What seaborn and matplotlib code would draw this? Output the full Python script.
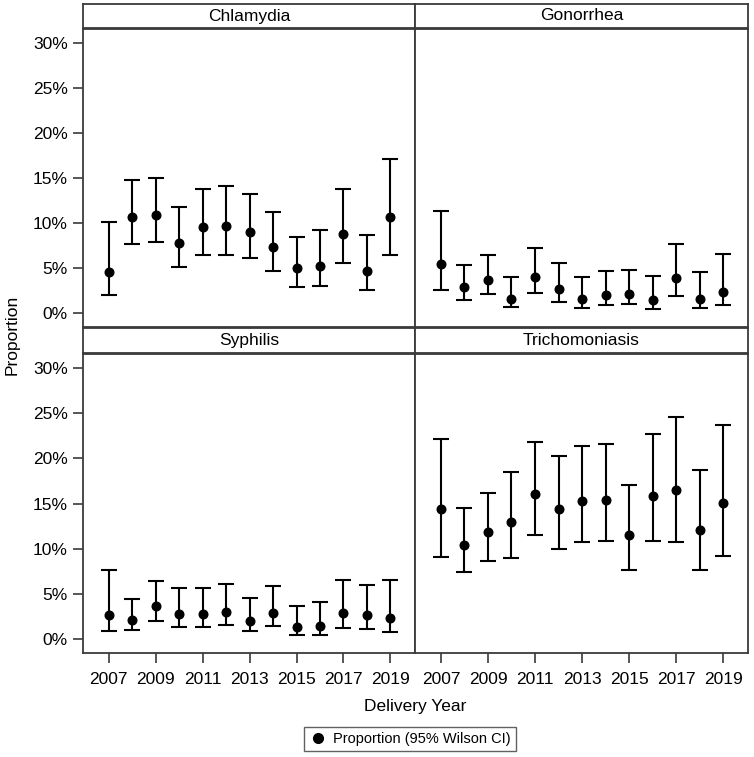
import numpy as np
import pandas as pd
import matplotlib
matplotlib.use("Agg")
import matplotlib.pyplot as plt
from matplotlib.lines import Line2D
import seaborn as sns

# Values (percent)
years = list(range(2007, 2020))
diseases = ["Chlamydia", "Gonorrhea", "Syphilis", "Trichomoniasis"]

chlamydia_p = [4.56, 10.72, 10.94, 7.81, 9.54, 9.65, 9.06, 7.32, 5.00, 5.26, 8.79, 4.71, 10.72]
chlamydia_lo = [2.05, 7.66, 7.96, 5.15, 6.51, 6.51, 6.18, 4.75, 2.94, 3.02, 5.55, 2.58, 6.51]
chlamydia_hi = [10.16, 14.80, 15.00, 11.80, 13.78, 14.15, 13.22, 11.30, 8.46, 9.24, 13.85, 8.69, 17.13]

gonorrhea_p = [5.48, 2.90, 3.71, 1.61, 4.08, 2.68, 1.61, 2.09, 2.13, 1.50, 3.93, 1.65, 2.35]
gonorrhea_lo = [2.57, 1.50, 2.12, 0.70, 2.23, 1.31, 0.65, 0.98, 1.02, 0.55, 1.98, 0.60, 0.92]
gonorrhea_hi = [11.35, 5.41, 6.44, 4.01, 7.22, 5.63, 4.01, 4.67, 4.78, 4.19, 7.73, 4.56, 6.58]

syphilis_p = [2.73, 2.10, 3.65, 2.84, 2.84, 3.06, 2.03, 2.95, 1.37, 1.48, 2.88, 2.66, 2.40]
syphilis_lo = [0.92, 1.00, 2.07, 1.40, 1.40, 1.55, 0.89, 1.48, 0.48, 0.52, 1.29, 1.18, 0.85]
syphilis_hi = [7.71, 4.50, 6.46, 5.68, 5.68, 6.16, 4.61, 5.90, 3.73, 4.13, 6.57, 6.05, 6.60]

trich_p = [14.43, 10.44, 11.88, 13.03, 16.05, 14.39, 15.35, 15.42, 11.51, 15.87, 16.53, 12.14, 15.06]
trich_lo = [9.08, 7.42, 8.67, 9.00, 11.55, 9.96, 10.81, 10.85, 7.64, 10.85, 10.74, 7.64, 9.19]
trich_hi = [22.20, 14.54, 16.24, 18.52, 21.84, 20.33, 21.40, 21.55, 17.08, 22.69, 24.54, 18.78, 23.73]

y_ticks = [0, 5, 10, 15, 20, 25, 30]
x_ticks = [2007, 2009, 2011, 2013, 2015, 2017, 2019]

series = {
    "Chlamydia": (chlamydia_p, chlamydia_lo, chlamydia_hi),
    "Gonorrhea": (gonorrhea_p, gonorrhea_lo, gonorrhea_hi),
    "Syphilis": (syphilis_p, syphilis_lo, syphilis_hi),
    "Trichomoniasis": (trich_p, trich_lo, trich_hi),
}
frames = []
for name in diseases:
    p, lo, hi = series[name]
    frames.append(pd.DataFrame({"disease": name, "year": years, "prop": p, "lower": lo, "upper": hi}))
df = pd.concat(frames, ignore_index=True)

sns.set_style("white")
plt.rcParams["font.family"] = ["Liberation Sans", "DejaVu Sans"]
plt.rcParams["font.size"] = 12
plt.rcParams["text.color"] = "black"
plt.rcParams["axes.labelcolor"] = "black"
plt.rcParams["xtick.labelcolor"] = "black"
plt.rcParams["ytick.labelcolor"] = "black"

EDGE = "#3a3a3a"


def draw_ci(data, **kws):
    ax = plt.gca()
    ax.errorbar(data["year"], data["prop"],
                yerr=[data["prop"] - data["lower"], data["upper"] - data["prop"]],
                fmt="o", color="black", ms=6.2, capsize=5.5,
                elinewidth=1.5, capthick=1.5)


g = sns.FacetGrid(df, col="disease", col_wrap=2, col_order=diseases,
                  sharex=True, sharey=True, height=3.5, aspect=1)
g.map_dataframe(draw_ci)
fig = g.figure
fig.set_size_inches(7.54, 7.57)
fig.set_dpi(100)
g.set_titles("")
g.set_axis_labels("", "")

W, H = 754.0, 757.0
left, mid, right = 83 / W, 415 / W, 748 / W
rows = [(29, 327, 4, 28), (354, 653, 328, 353)]  # plot top/bottom, header top/bottom (px)

axes = g.axes.flatten()
for i, ax in enumerate(axes):
    r, c = divmod(i, 2)
    top_px, bot_px, htop, hbot = rows[r]
    x0 = left if c == 0 else mid
    x1 = mid if c == 0 else right
    ax.set_position([x0, 1 - bot_px / H, x1 - x0, (bot_px - top_px) / H])
    ax.set_xlim(2005.9, 2020.05)
    ax.set_ylim(-1.5, 31.55)
    ax.set_yticks(y_ticks)
    ax.set_yticklabels([f"{v}%" for v in y_ticks])
    ax.set_xticks(x_ticks)
    ax.set_xticklabels([str(v) for v in x_ticks])
    for sp in ax.spines.values():
        sp.set_visible(True)
        sp.set_color(EDGE)
        sp.set_linewidth(1.3)
    ax.tick_params(axis="both", direction="out", length=7, width=1.2,
                   color=EDGE, labelcolor="black", labelsize=12.5, pad=4)
    ax.tick_params(axis="x", pad=7)
    ax.tick_params(left=(c == 0), labelleft=(c == 0),
                   bottom=(r == 1), labelbottom=(r == 1))

    # strip header
    hax = fig.add_axes([x0, 1 - hbot / H, x1 - x0, (hbot - htop) / H])
    hax.set_xticks([])
    hax.set_yticks([])
    hax.set_facecolor("white")
    for sp in hax.spines.values():
        sp.set_visible(True)
        sp.set_color(EDGE)
        sp.set_linewidth(1.3)
    hax.text(0.5, 0.5, diseases[i], ha="center", va="center", fontsize=12.5,
             color="black", transform=hax.transAxes)

fig.text(12 / W, 1 - 335 / H, "Proportion", rotation=90, ha="center", va="center",
         fontsize=12.5, color="black")
fig.text(415 / W, 1 - 707 / H, "Delivery Year", ha="center", va="center",
         fontsize=12.5, color="black")

handle = Line2D([], [], marker="o", color="black", linestyle="none", markersize=7)
leg = fig.legend([handle], ["Proportion (95% Wilson CI)"], loc="center",
                 bbox_to_anchor=(410 / W, 1 - 739 / H), frameon=True,
                 fontsize=10.5, fancybox=False, handletextpad=0.4,
                 borderpad=0.35, handlelength=1.2)
leg.get_frame().set_edgecolor(EDGE)
leg.get_frame().set_linewidth(1.0)
for t in leg.get_texts():
    t.set_color("black")

fig.savefig("out.png", dpi=100)
